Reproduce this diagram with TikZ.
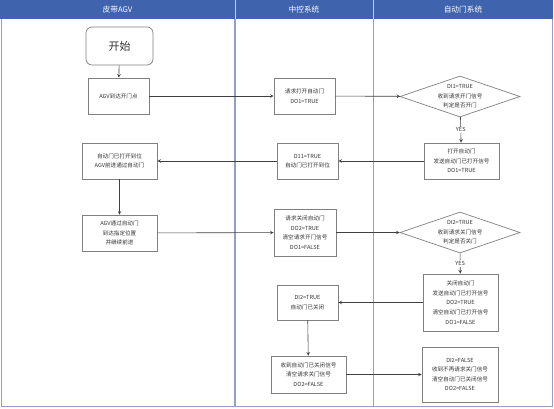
\documentclass[tikz,border=0pt]{standalone}
\usepackage{fontspec}
\setmainfont{Noto Sans CJK SC}
\usetikzlibrary{shapes.geometric}

\definecolor{headblue}{HTML}{3F63AD}
\definecolor{lanegray}{HTML}{8FA2C6}
\definecolor{boxgray}{HTML}{808080}
\definecolor{linegray}{HTML}{404040}

\begin{document}
\begin{tikzpicture}[x = 1pt, y = -1pt,
	box/.style = {draw = boxgray, line width = 0.7pt, rectangle, inner sep = 0pt, align = center, font = \fontsize{5.6}{9.6}\selectfont, text = black!80},
	decide/.style = {draw = boxgray, line width = 0.7pt, diamond, aspect = 2.9, inner sep = 0pt, minimum width = 120pt, minimum height = 41pt, align = center, font = \fontsize{5.6}{9.6}\selectfont, text = black!80},
	flow/.style = {draw = linegray, line width = 0.6pt, -stealth},
	title/.style = {text = white, font = \fontsize{7.7}{9}\selectfont}]
	\useasboundingbox (0, 0) rectangle (554, 408);

	% lanes
	\fill[headblue] (0, 0) rectangle (553, 19);
	\draw[white!70!headblue, line width = 0.5pt] (235, 0) -- (235, 19) (373, 0) -- (373, 19);
	\draw[lanegray, line width = 1pt] (1, 19) -- (1, 406.5) -- (552.5, 406.5) -- (552.5, 19);
	\draw[lanegray, line width = 1.6pt] (235, 19) -- (235, 406);
	\draw[lanegray, line width = 0.8pt] (373, 19) -- (373, 406);
	\node[title] (lagv) at (117.5, 9.5){皮带AGV};
	\node[title] (lctl) at (304, 9.5){中控系统};
	\node[title] (ldoor) at (463, 9.5){自动门系统};

	% AGV
	\node[box, rounded corners = 6pt, minimum width = 67pt, minimum height = 38pt, font = \fontsize{11}{13}\selectfont] (start) at (119.5, 46){开始};
	\node[box, minimum width = 61pt, minimum height = 36pt] (arrive) at (118.5, 96){AGV到达开门点};
	\node[box, minimum width = 75pt, minimum height = 36pt] (pass) at (119.5, 161){自动门已打开到位\\AGV前进通过自动门};
	\node[box, minimum width = 75pt, minimum height = 36pt] (passed) at (119.5, 233){AGV通过自动门\\到达指定位置\\并继续前进};

	% control
	\node[box, minimum width = 61pt, minimum height = 36pt] (reqopen) at (304.5, 96){请求打开自动门\\DO1=TRUE};
	\node[box, minimum width = 61pt, minimum height = 36pt] (opened) at (307.5, 161){D11=TRUE\\自动门已打开到位};
	\node[box, minimum width = 62pt, minimum height = 47pt] (reqclose) at (305, 232.5){请求关闭自动门\\DO2=TRUE\\清空请求开门信号\\DO1=FALSE};
	\node[box, minimum width = 61pt, minimum height = 35pt] (closed) at (307.5, 302.5){DI2=TRUE\\自动门已关闭};
	\node[box, minimum width = 75pt, minimum height = 37pt] (clear) at (308.5, 374.5){收到自动门已关闭信号\\清空请求关门信号\\DO2=FALSE};

	% door
	\node[decide] (askopen) at (460, 96.5){DI1=TRUE\\收到请求开门信号\\判定是否开门};
	\node[box, minimum width = 75pt, minimum height = 36pt] (doopen) at (461.5, 161){打开自动门\\发送自动门已打开信号\\DO1=TRUE};
	\node[decide] (askclose) at (460, 232.5){DI2=TRUE\\收到请求关门信号\\判定是否关门};
	\node[box, minimum width = 75pt, minimum height = 57pt] (doclose) at (460.5, 302.5){关闭自动门\\发送自动门已打开信号\\DO2=TRUE\\清空自动门已打开信号\\DO1=FALSE};
	\node[box, minimum width = 76pt, minimum height = 55pt] (idle) at (460, 374.5){DI2=FALSE\\收到不再请求关门信号\\清空自动门已关闭信号\\DO2=FALSE};

	\draw[flow] (start) -- (arrive);
	\draw[flow] (arrive) -- (reqopen);
	\draw[flow] (reqopen) -- (askopen);
	\draw[flow] (askopen) -- node[fill = white, inner sep = 1pt, font = \fontsize{5.6}{7}\selectfont, text = black!80]{YES} (doopen);
	\draw[flow] (doopen) -- (opened);
	\draw[flow] (opened) -- (pass);
	\draw[flow] (pass) -- (passed);
	\draw[flow] (passed) -- (reqclose);
	\draw[flow] (reqclose) -- (askclose);
	\draw[flow] (askclose) -- node[fill = white, inner sep = 1pt, font = \fontsize{5.6}{7}\selectfont, text = black!80]{YES} (doclose);
	\draw[flow] (doclose) -- (closed);
	\draw[flow] (closed) -- (clear);
	\draw[flow] (clear) -- (idle);
\end{tikzpicture}
\end{document}
